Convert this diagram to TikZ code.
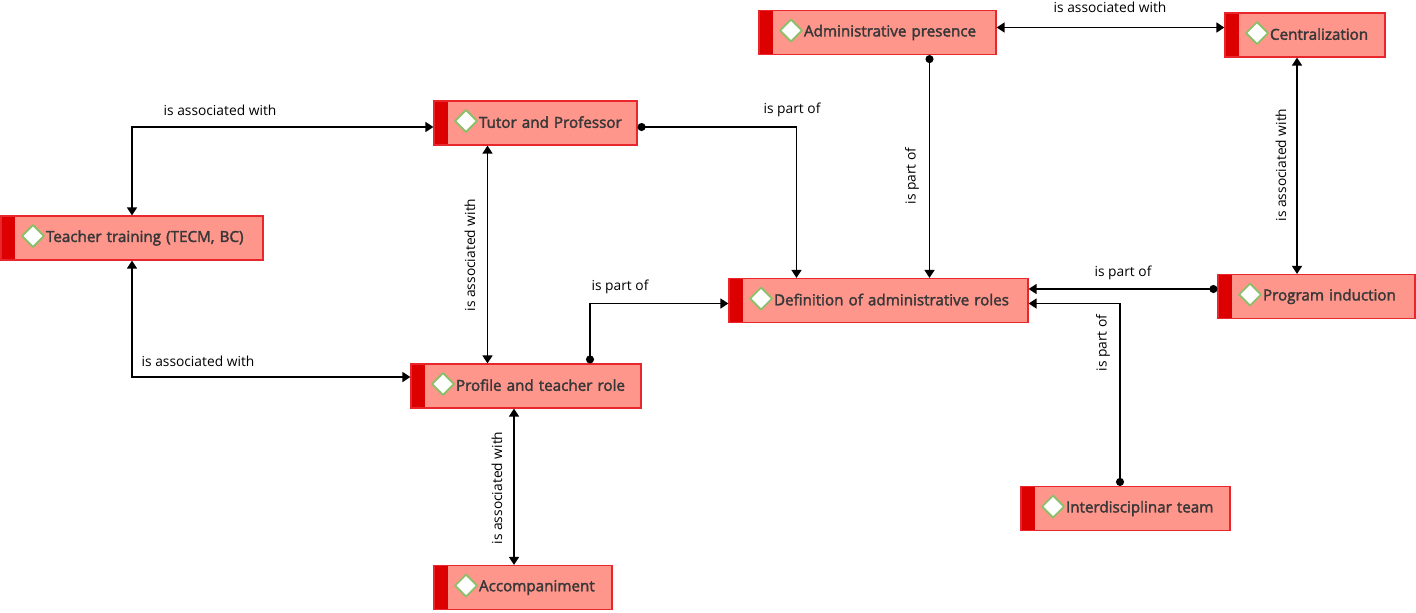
\documentclass[tikz,border=0pt]{standalone}
\usepackage{fontspec}
\setmainfont{Open Sans}
\newfontfamily\conceptfont{Open Sans}[FakeBold=2.2]
\usepackage{tikz}
\usetikzlibrary{arrows.meta,positioning}
\definecolor{boxfill}{HTML}{FF968C}
\definecolor{boxline}{HTML}{E8262B}
\definecolor{stripered}{HTML}{DD0000}
\definecolor{gemline}{HTML}{8DBF6A}
\definecolor{textgray}{HTML}{383838}

\begin{document}
\begin{tikzpicture}[
  x=0.5pt, y=-0.5pt,
  concept/.style={draw=boxline, fill=boxfill, line width=0.6pt, minimum height=22pt,
    inner sep=0pt, text width=#1, align=left, text=textgray,
    font=\conceptfont\fontsize{7.6}{8.5}\selectfont,
    path picture={
      \fill[stripered] (path picture bounding box.south west) rectangle ([xshift=7pt]path picture bounding box.north west);
      \draw[gemline, fill=white, line width=0.9pt, line join=round]
        ([xshift=10.5pt,yshift=1pt]path picture bounding box.west) -- ([xshift=16pt,yshift=6.5pt]path picture bounding box.west)
        -- ([xshift=21.5pt,yshift=1pt]path picture bounding box.west) -- ([xshift=16pt,yshift=-4.5pt]path picture bounding box.west) -- cycle;
    }},
  tipA/.tip={Triangle[length=4pt, width=5pt]},
  assoc/.style={tipA-tipA, line width=0.75pt},
  partof/.style={{Circle[length=4pt]}-tipA, line width=0.75pt},
  lab/.style={font=\fontsize{6.9}{8}\selectfont, inner sep=1pt}
]
\useasboundingbox (0,0) rectangle (1416,612);

\node[concept=118.5pt] (ap) at (877.5,32.5) {\hspace*{22.5pt}\raisebox{1pt}{Administrative presence}};
\node[concept=80pt] (ce) at (1305,35) {\hspace*{22.5pt}\raisebox{1pt}{Centralization}};
\node[concept=101.5pt] (tp) at (535.5,123) {\hspace*{22.5pt}\raisebox{1pt}{Tutor and Professor}};
\node[concept=131pt] (tt) at (132,238) {\hspace*{22.5pt}\raisebox{1pt}{Teacher training (TECM, BC)}};
\node[concept=149.5pt] (dar) at (878.5,300.5) {\hspace*{22.5pt}\raisebox{1pt}{Definition of administrative roles}};
\node[concept=98.5pt] (pi) at (1316.5,296.5) {\hspace*{22.5pt}\raisebox{1pt}{Program induction}};
\node[concept=115pt] (pr) at (526,386) {\hspace*{22.5pt}\raisebox{1pt}{Profile and teacher role}};
\node[concept=104.5pt] (it) at (1125.5,508.5) {\hspace*{22.5pt}\raisebox{1pt}{Interdisciplinar team}};
\node[concept=89pt] (ac) at (523,587.5) {\hspace*{22.5pt}\raisebox{1pt}{Accompaniment}};

\draw[assoc] (tt.north) |- ([yshift=-2pt]tp.west);
\draw[assoc] (tt.south) |- ([yshift=4.5pt]pr.west);
\draw[assoc] ([xshift=-24pt]tp.south) -- ([xshift=-24pt]tp.south |- pr.north);
\draw[partof] ([yshift=-2pt]tp.east) -| ([xshift=-41pt]dar.north);
\draw[partof] ([xshift=32pt]pr.north) |- ([yshift=-1.5pt]dar.west);
\draw[assoc] ([xshift=-6pt]pr.south) -- ([xshift=-6pt]pr.south |- ac.north);
\draw[partof] ([xshift=26pt]ap.south) -- ([xshift=26pt]ap.south |- dar.north);
\draw[assoc] ([yshift=2.5pt]ap.east) -- ([yshift=2.5pt]ap.east -| ce.west);
\draw[assoc] ([xshift=-4pt]ce.south) -- ([xshift=-4pt]ce.south |- pi.north);
\draw[partof] ([yshift=3.75pt]pi.west) -- ([yshift=3.75pt]pi.west -| dar.east);
\draw[partof] ([xshift=-2.75pt]it.north) |- ([yshift=-1.5pt]dar.east);

\node[lab] (l1) at (220,110) {is associated with};
\node[lab] (l2) at (198,361) {is associated with};
\node[lab, rotate=90] (l3) at (470,255) {is associated with};
\node[lab] (l4) at (792,110) {is part of};
\node[lab] (l5) at (620,287) {is part of};
\node[lab, rotate=90] (l6) at (497,488) {is associated with};
\node[lab, rotate=90] (l7) at (912,176) {is part of};
\node[lab] (l8) at (1110,7) {is associated with};
\node[lab, rotate=90] (l9) at (1281,165) {is associated with};
\node[lab] (l10) at (1123,273) {is part of};
\node[lab, rotate=90] (l11) at (1103,343) {is part of};
\end{tikzpicture}
\end{document}
